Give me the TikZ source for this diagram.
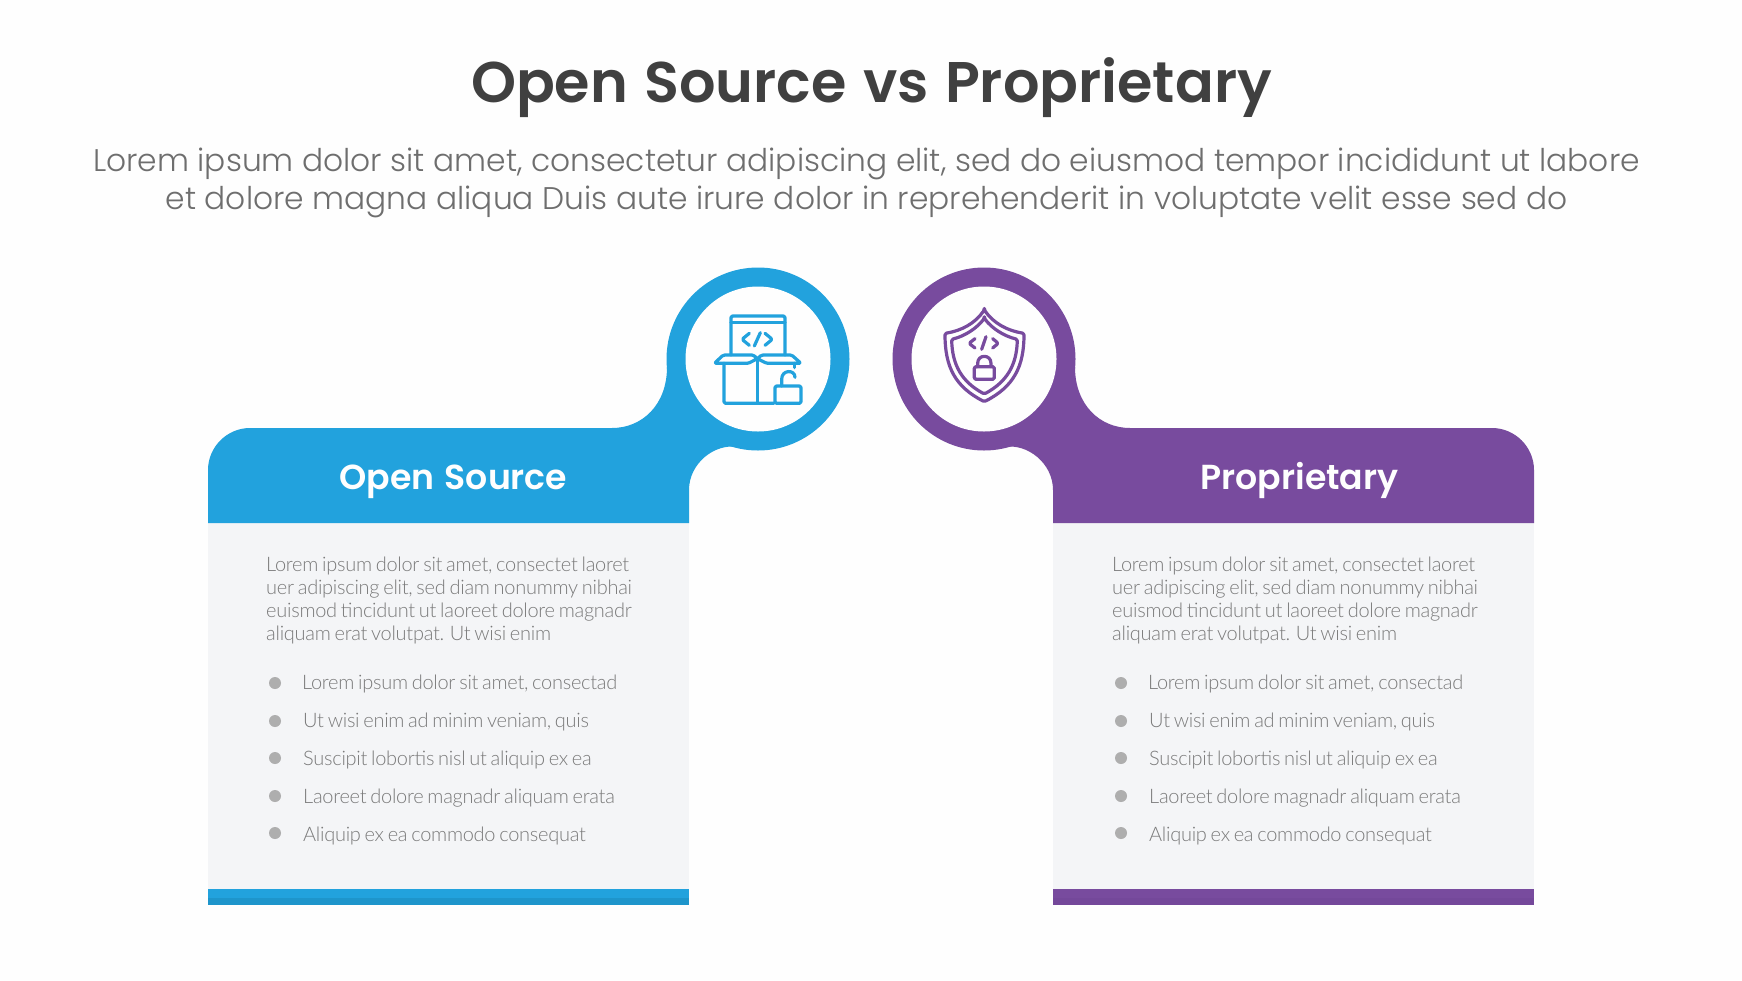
\documentclass[tikz,border=0pt]{standalone}
\usepackage{fontspec}
\newfontfamily\popsemi{Poppins SemiBold}
\newfontfamily\poptitle[WordSpace=1.2]{Poppins SemiBold}
\newfontfamily\poplight{Poppins Light}
\newfontfamily\latolight[LetterSpace=-1.4,WordSpace=0.72]{Lato Light}
\definecolor{cbg}{HTML}{FEFEFE}
\definecolor{cblue}{HTML}{22A2DD}
\definecolor{cbluedk}{HTML}{1E95CB}
\definecolor{cpurple}{HTML}{784B9E}
\definecolor{cpurpledk}{HTML}{74489A}
\definecolor{cpanel}{HTML}{F4F5F7}
\definecolor{ctitle}{HTML}{404040}
\definecolor{csub}{HTML}{6E6E6E}
\definecolor{cbody}{HTML}{7A7A7A}
\definecolor{cdot}{HTML}{AEAEAE}
\newcommand{\headpath}{(208,523) -- (208,470) .. controls (208,447) and (227,428) .. (250,428) -- (612,428) .. controls (642,428) and (667,405) .. (667,367) -- (758,359) -- (738,447) .. controls (715,443) and (689,463) .. (689,490) -- (689,523) -- cycle}
\tikzset{
  titletext/.style={anchor=base,inner sep=0pt,text=ctitle,font=\poptitle\fontsize{57.3}{57.3}\selectfont},
  subtext/.style={anchor=base,inner sep=0pt,text=csub,font=\poplight\fontsize{31.3}{31.3}\selectfont},
  headtext/.style={anchor=base,inner sep=0pt,text=cbg,font=\popsemi\fontsize{34.7}{34.7}\selectfont},
  bodytext/.style={anchor=base west,inner sep=0pt,text=cbody,font=\latolight\fontsize{20}{20}\selectfont},
  bullettext/.style={anchor=base west,inner sep=0pt,text=cbody,font=\latolight\fontsize{20}{20}\selectfont},
  dotmark/.style={circle,fill=cdot,inner sep=0pt,minimum size=12pt},
  iconline/.style={line width=3.2pt,line join=round,line cap=round,rounded corners=1.5pt},
}
\newcommand{\panelcontent}[2]{%
  \node[bodytext] (#2b1) at (#1+266,571) {Lorem ipsum dolor sit amet, consectet laoret};
  \node[bodytext] (#2b2) at (#1+266,594) {uer adipiscing elit, sed diam nonummy nibhai};
  \node[bodytext] (#2b3) at (#1+266,617) {euismod tincidunt ut laoreet dolore magnadr};
  \node[bodytext] (#2b4) at (#1+266,640) {aliquam erat volutpat. Ut wisi enim};
  \node[dotmark] (#2d1) at (#1+275,683) {};
  \node[dotmark] (#2d2) at (#1+275,721) {};
  \node[dotmark] (#2d3) at (#1+275,758) {};
  \node[dotmark] (#2d4) at (#1+275,796) {};
  \node[dotmark] (#2d5) at (#1+275,833) {};
  \node[bullettext] (#2t1) at (#1+302,689) {Lorem ipsum dolor sit amet, consectad};
  \node[bullettext] (#2t2) at (#1+303,727) {Ut wisi enim ad minim veniam, quis};
  \node[bullettext] (#2t3) at (#1+303,765) {Suscipit lobortis nisl ut aliquip ex ea};
  \node[bullettext] (#2t4) at (#1+303,803) {Laoreet dolore magnadr aliquam erata};
  \node[bullettext] (#2t5) at (#1+303,841) {Aliquip ex ea commodo consequat};
}
\begin{document}
\begin{tikzpicture}[x=1pt,y=-1pt]
\useasboundingbox (0,0) rectangle (1742,980);
\fill[cbg] (0,0) rectangle (1742,980);
\node[titletext] (title) at (871.5,102) {Open Source vs Proprietary};
\node[subtext] (sub1) at (866.5,171) {Lorem ipsum dolor sit amet, consectetur adipiscing elit, sed do eiusmod tempor incididunt ut labore};
\node[subtext] (sub2) at (866.5,209) {et dolore magna aliqua Duis aute irure dolor in reprehenderit in voluptate velit esse sed do};
% left panel
\fill[cpanel] (208,523) rectangle (689,890);
\fill[cblue] (208,889) rectangle (689,898);
\fill[cbluedk] (208,898) rectangle (689,905);
\fill[cblue] \headpath;
\fill[cblue] (758,359) circle[radius=91.5];
\fill[cbg] (758,359) circle[radius=72.5];
% right panel
\fill[cpanel] (1053,523) rectangle (1534,890);
\fill[cpurple] (1053,889) rectangle (1534,898);
\fill[cpurpledk] (1053,898) rectangle (1534,905);
\begin{scope}[xshift=1742pt,xscale=-1]
\fill[cpurple] \headpath;
\fill[cpurple] (758,359) circle[radius=91.5];
\fill[cbg] (758,359) circle[radius=72.5];
\end{scope}
\node[headtext] (lh) at (453.5,489) {Open Source};
\node[headtext] (rh) at (1299.5,489) {Proprietary};
\panelcontent{0}{l}
\panelcontent{846}{r}
% box icon
\begin{scope}[shift={(700,300)},x=0.3333pt,y=-0.3333pt,draw=cblue,iconline]
\draw (93,165) -- (93,48) -- (255,48) -- (255,165);
\draw (93,68) -- (255,68);
\draw (148,100) -- (126,118) -- (148,136);
\draw (181,98) -- (163,138);
\draw (195,100) -- (217,118) -- (195,136);
\draw (43,190) -- (70,165) -- (160,165) -- (172,176) -- (145,190) -- cycle;
\draw (172,176) -- (185,165) -- (275,165) -- (303,190) -- (200,190) -- cycle;
\draw (72,190) -- (72,310) -- (222,310);
\draw (172,176) -- (172,310);
\draw (283,190) -- (283,203);
\draw (225,258) -- (303,258) -- (303,310) -- (225,310) -- cycle;
\draw[rounded corners=0pt] (245,258) -- (245,238) .. controls (245,208) and (285,208) .. (285,232);
\end{scope}
% shield icon
\begin{scope}[shift={(925,300)},x=0.3333pt,y=-0.3333pt,draw=cpurple,iconline]
\draw (178,30) .. controls (150,70) and (110,92) .. (60,100) .. controls (60,200) and (90,260) .. (178,305) .. controls (266,260) and (297,200) .. (297,100) .. controls (247,92) and (206,70) .. (178,30) -- cycle;
\draw (178,55) .. controls (155,85) and (120,108) .. (80,118) .. controls (82,195) and (110,245) .. (178,282) .. controls (246,245) and (275,195) .. (277,118) .. controls (236,108) and (201,85) .. (178,55) -- cycle;
\draw (150,116) -- (132,130) -- (150,144);
\draw (183,110) -- (170,148);
\draw (203,116) -- (220,130) -- (203,144);
\draw (148,200) -- (208,200) -- (208,238) -- (148,238) -- cycle;
\draw[rounded corners=0pt] (158,200) -- (158,190) .. controls (158,162) and (198,162) .. (198,190) -- (198,200);
\end{scope}
\end{tikzpicture}
\end{document}
